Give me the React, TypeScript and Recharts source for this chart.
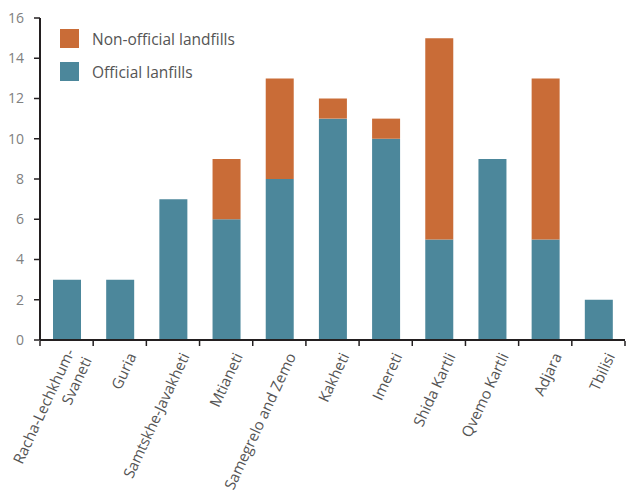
import { BarChart, Bar, XAxis, YAxis, Legend } from 'recharts'

const regions = [
  'Racha-Lechkhum-Svaneti',
  'Guria',
  'Samtskhe-Javakheti',
  'Mtianeti',
  'Samegrelo and Zemo',
  'Kakheti',
  'Imereti',
  'Shida Kartli',
  'Qvemo Kartli',
  'Adjara',
  'Tbilisi',
]
const tickLabels = [
  'Racha-Lechkhum-\nSvaneti',
  'Guria',
  'Samtskhe-Javakheti',
  'Mtianeti',
  'Samegrelo and Zemo',
  'Kakheti',
  'Imereti',
  'Shida Kartli',
  'Qvemo Kartli',
  'Adjara',
  'Tbilisi',
]
const officialLandfills = [3, 3, 7, 6, 8, 11, 10, 5, 9, 5, 2]
const nonOfficialLandfills = [0, 0, 0, 3, 5, 1, 1, 10, 0, 8, 0]
const yTicks = [0, 2, 4, 6, 8, 10, 12, 14, 16]

const data = regions.map((region, i) => ({
  region,
  official: officialLandfills[i],
  nonOfficial: nonOfficialLandfills[i],
}))

const W = 626
const H = 494
const M = { top: 18, right: 1, left: 0, bottom: 0 }
const Y_AXIS_W = 40
const X_AXIS_H = 154
const PLOT_W = W - M.left - M.right - Y_AXIS_W

const ORANGE = '#c96c37'
const TEAL = '#4c879b'
const AXIS = '#231f20'
const FONT = '"Open Sans", sans-serif'

function RegionTick(props: any) {
  const { x, y, payload, index } = props
  const band = PLOT_W / regions.length
  const lines = String(tickLabels[index] ?? payload.value).split('\n')
  const lh = 19
  return (
    <g>
      <line x1={x - band / 2} x2={x - band / 2} y1={y + 1} y2={y + 6} stroke={AXIS} strokeWidth={1.5} />
      {index === regions.length - 1 && (
        <line x1={x + band / 2} x2={x + band / 2} y1={y + 1} y2={y + 6} stroke={AXIS} strokeWidth={1.5} />
      )}
      <text
        transform={`translate(${x + 17},${y + 16}) rotate(-65)`}
        textAnchor="end"
        fontSize={15}
        fontFamily={FONT}
        fill="#555"
      >
        {lines.map((ln, i) => (
          <tspan key={i} x={0} y={(i - (lines.length - 1) / 2) * lh}>
            {ln}
          </tspan>
        ))}
      </text>
    </g>
  )
}

function LegendBox() {
  const items = [
    { name: 'Non-official landfills', color: ORANGE },
    { name: 'Official lanfills', color: TEAL },
  ]
  return (
    <div style={{ fontFamily: FONT }}>
      {items.map((it) => (
        <div key={it.name} style={{ display: 'flex', alignItems: 'center', height: 19, marginBottom: 14 }}>
          <span style={{ width: 19, height: 19, background: it.color, display: 'inline-block', marginRight: 13 }} />
          <span style={{ fontSize: 15.5, color: '#555', whiteSpace: 'nowrap' }}>{it.name}</span>
        </div>
      ))}
    </div>
  )
}

export default function App() {
  return (
    <div style={{ position: 'absolute', left: 0, top: 0, width: W, height: H, background: '#fff' }}>
      <BarChart width={W} height={H} data={data} margin={M}>
        <XAxis
          dataKey="region"
          type="category"
          height={X_AXIS_H}
          interval={0}
          axisLine={{ stroke: AXIS, strokeWidth: 2 }}
          tickLine={false}
          tickSize={0}
          tickMargin={0}
          tick={<RegionTick />}
        />
        <YAxis
          width={Y_AXIS_W}
          domain={[0, 16]}
          ticks={yTicks}
          interval={0}
          axisLine={{ stroke: AXIS, strokeWidth: 2 }}
          tickLine={{ stroke: AXIS, strokeWidth: 1.5 }}
          tickSize={6}
          tickMargin={10}
          tick={{ fill: '#808080', fontSize: 14, fontFamily: FONT }}
        />
        <Legend
          layout="horizontal"
          verticalAlign="middle"
          align="center"
          content={<LegendBox />}
          wrapperStyle={{ position: 'absolute', left: 60, top: 29, width: 'auto', height: 'auto' }}
        />
        <Bar dataKey="official" name="Official lanfills" stackId="a" fill={TEAL} barSize={28} isAnimationActive={false} />
        <Bar
          dataKey="nonOfficial"
          name="Non-official landfills"
          stackId="a"
          fill={ORANGE}
          barSize={28}
          isAnimationActive={false}
        />
      </BarChart>
    </div>
  )
}
